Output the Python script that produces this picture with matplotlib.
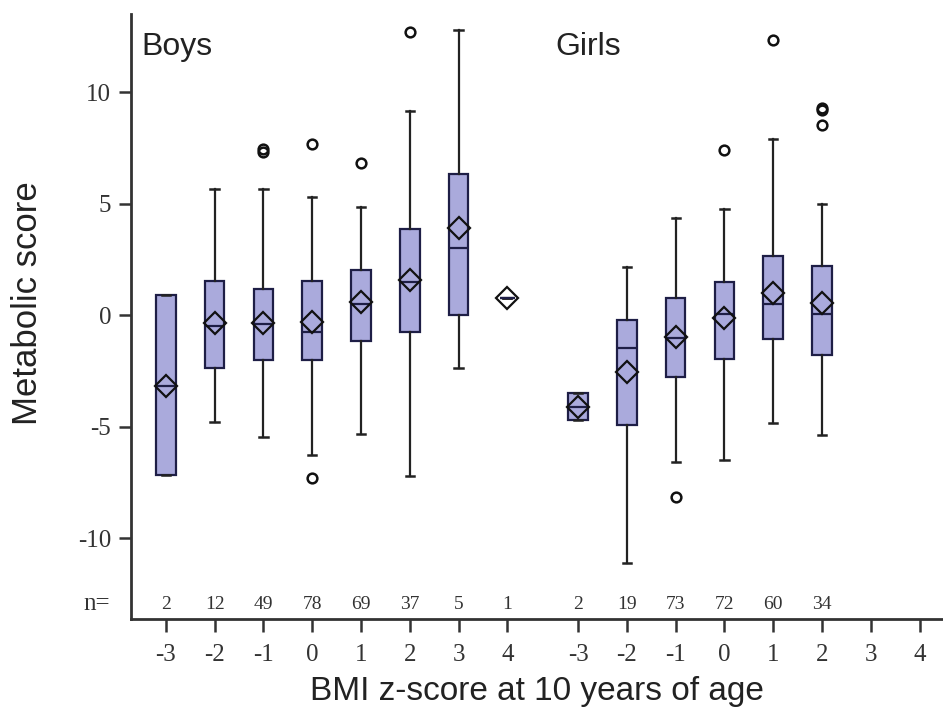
import matplotlib
matplotlib.use('Agg')
import matplotlib.pyplot as plt

#values
z_labels = ['-3', '-2', '-1', '0', '1', '2', '3', '4']

boys_n = [2, 12, 49, 78, 69, 37, 5, 1]
boys_q1 = [-7.16, -2.38, -2.0, -2.0, -1.14, -0.73, 0.0, 0.79]
boys_q3 = [0.9, 1.54, 1.19, 1.54, 2.02, 3.86, 6.32, 0.79]
boys_med = [-3.17, -0.5, -0.4, -0.76, 0.5, 1.5, 3.0, 0.79]
boys_mean = [-3.17, -0.36, -0.36, -0.31, 0.58, 1.58, 3.93, 0.79]
boys_wlo = [-7.16, -4.78, -5.47, -6.28, -5.34, -7.2, -2.36, 0.79]
boys_whi = [0.9, 5.66, 5.66, 5.29, 4.87, 9.16, 12.8, 0.79]
boys_fliers = [[], [], [7.34, 7.46], [7.68, -7.3], [6.84], [12.7], [], []]

girls_n = [2, 19, 73, 72, 60, 34]
girls_q1 = [-4.69, -4.92, -2.75, -1.97, -1.06, -1.78]
girls_q3 = [-3.47, -0.21, 0.79, 1.48, 2.66, 2.22]
girls_med = [-4.1, -1.48, -1.0, 0.05, 0.51, 0.06]
girls_mean = [-4.1, -2.53, -0.96, -0.13, 0.99, 0.57]
girls_wlo = [-4.69, -11.12, -6.59, -6.49, -4.84, -5.37]
girls_whi = [-3.47, 2.18, 4.38, 4.77, 7.89, 4.99]
girls_fliers = [[], [], [-8.13], [7.41], [12.35], [9.2, 9.3, 8.53]]

y_ticks = [-10, -5, 0, 5, 10]

boys_pos = [i for i in range(len(z_labels))]
girls_pos = [8.45 + i for i in range(len(z_labels))]

serif = 'Liberation Serif'
sans = 'Liberation Sans'


def make_stats(q1, q3, med, mean, wlo, whi, fliers):
    stats = []
    for i in range(len(q1)):
        stats.append({'q1': q1[i], 'q3': q3[i], 'med': med[i], 'mean': mean[i],
                      'whislo': wlo[i], 'whishi': whi[i], 'fliers': fliers[i]})
    return stats


fig = plt.figure(figsize=(9.43, 7.16), dpi=100)
ax = fig.add_axes([0.1386, 0.1355, 0.8614, 0.845])

box_style = dict(
    patch_artist=True, showmeans=True, manage_ticks=False,
    boxprops=dict(facecolor='#aaaadc', edgecolor='#1e1e46', linewidth=1.6),
    medianprops=dict(color='#1e1e46', linewidth=1.6),
    whiskerprops=dict(color='#222222', linewidth=1.6),
    capprops=dict(color='#222222', linewidth=1.8),
    meanprops=dict(marker='D', markerfacecolor='none', markeredgecolor='#111111',
                   markersize=11, markeredgewidth=1.6),
    flierprops=dict(marker='o', markerfacecolor='none', markeredgecolor='#111111',
                    markersize=7, markeredgewidth=1.8),
)

b_widths = [0.4] * len(boys_pos)
b_widths[-1] = 0.3
ax.bxp(make_stats(boys_q1, boys_q3, boys_med, boys_mean, boys_wlo, boys_whi, boys_fliers),
       positions=boys_pos, widths=b_widths, capwidths=0.17, **box_style)
ax.bxp(make_stats(girls_q1, girls_q3, girls_med, girls_mean, girls_wlo, girls_whi, girls_fliers),
       positions=girls_pos[:len(girls_n)], widths=0.4, capwidths=0.17, **box_style)

#n= row along the bottom
n_y = -12.96
for p, n in zip(boys_pos, boys_n):
    ax.text(p, n_y, str(n), ha='center', va='center', fontsize=14, family=serif, color='#333333')
for p, n in zip(girls_pos, girls_n):
    ax.text(p, n_y, str(n), ha='center', va='center', fontsize=14, family=serif, color='#333333')
ax.text(-1.41, n_y, 'n=', ha='center', va='center', fontsize=18, family=serif,
        color='#333333', clip_on=False)

ax.text(-0.5, 11.67, 'Boys', fontsize=23, family=sans, va='baseline', ha='left', color='#222222')
ax.text(7.98, 11.67, 'Girls', fontsize=23, family=sans, va='baseline', ha='left', color='#222222')

ax.set_xlim(-0.72, 15.93)
ax.set_ylim(-13.62, 13.51)
ax.set_xticks(boys_pos + girls_pos)
ax.set_xticklabels(z_labels + z_labels, family=serif, fontsize=18, color='#333333')
ax.set_yticks(y_ticks)
ax.set_yticklabels([str(t) for t in y_ticks], family=serif, fontsize=18, color='#333333')
ax.tick_params(axis='x', length=9, width=1.8, pad=9, color='#333333')
ax.tick_params(axis='y', length=9, width=1.8, pad=5, color='#333333')

for s in ['top', 'right']:
    ax.spines[s].set_visible(False)
for s in ['left', 'bottom']:
    ax.spines[s].set_linewidth(2)
    ax.spines[s].set_color('#333333')

ax.set_ylabel('Metabolic score', fontsize=25, family=sans, color='#222222')
ax.yaxis.set_label_coords(-0.1067, 0.522)
ax.set_xlabel('BMI z-score at 10 years of age', fontsize=24, family=sans, labelpad=7, color='#222222')

fig.savefig('out.png', dpi=100)
